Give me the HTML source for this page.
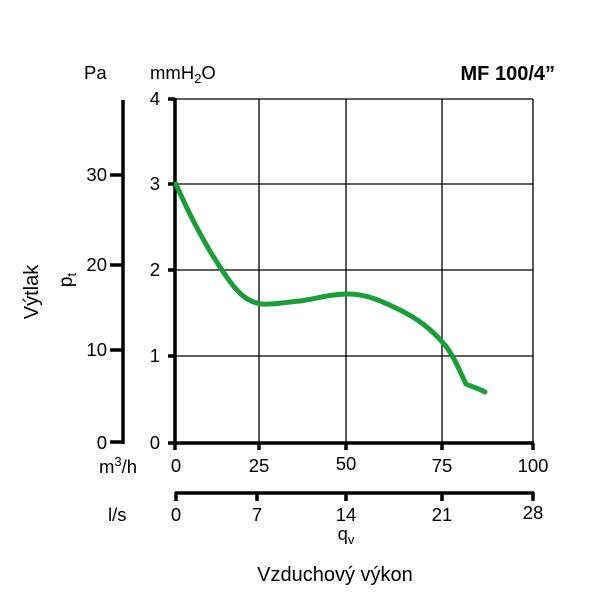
<!DOCTYPE html>
<html><head><meta charset="utf-8"><style>body{margin:0;background:#fff}</style></head><body>
<svg width="614" height="599" xmlns="http://www.w3.org/2000/svg" font-family="Liberation Sans, sans-serif" fill="#000">
<g stroke="#000" stroke-width="1.3">
<line x1="175" y1="99" x2="533" y2="99"/><line x1="175" y1="184" x2="533" y2="184"/>
<line x1="175" y1="270" x2="533" y2="270"/><line x1="175" y1="356" x2="533" y2="356"/>
<line x1="259" y1="99" x2="259" y2="443"/><line x1="346" y1="99" x2="346" y2="443"/>
<line x1="442" y1="99" x2="442" y2="443"/><line x1="533" y1="99" x2="533" y2="443"/>
</g>
<g stroke="#000" stroke-width="3.5">
<line x1="175" y1="98" x2="175" y2="450"/>
<line x1="168" y1="443" x2="534" y2="443"/>
<line x1="168" y1="99" x2="175" y2="99"/><line x1="168" y1="184" x2="175" y2="184"/>
<line x1="168" y1="270" x2="175" y2="270"/><line x1="168" y1="356" x2="175" y2="356"/>
<line x1="259" y1="443" x2="259" y2="450"/><line x1="346" y1="443" x2="346" y2="450"/>
<line x1="442" y1="443" x2="442" y2="450"/><line x1="533" y1="443" x2="533" y2="450"/>
<line x1="123" y1="100" x2="123" y2="444"/>
<line x1="110" y1="175" x2="123" y2="175"/><line x1="110" y1="265" x2="123" y2="265"/>
<line x1="110" y1="350" x2="123" y2="350"/><line x1="110" y1="442" x2="123" y2="442"/>
<line x1="175" y1="493" x2="534" y2="493"/>
<line x1="176" y1="492" x2="176" y2="501"/><line x1="257" y1="492" x2="257" y2="501"/>
<line x1="346" y1="492" x2="346" y2="501"/><line x1="442" y1="492" x2="442" y2="501"/>
<line x1="533" y1="492" x2="533" y2="501"/>
</g>
<path d="M176,184 C188,212 205,245 222,270 C235,290 245,302 262,304 C275,305 285,302 300,301 C315,299 330,294 348,294 C365,294 380,300 400,310 C420,320 432,330 445,345 C455,358 460,372 466,384 C475,388 480,389 485,392" fill="none" stroke="#1a9e3a" stroke-width="5" stroke-linecap="round"/>
<g font-size="18.5">
<text x="84" y="79">Pa</text>
<text x="150" y="79">mmH<tspan font-size="13" dy="4">2</tspan><tspan dy="-4">O</tspan></text>
<text x="555" y="80" font-weight="bold" font-size="20" text-anchor="end">MF 100/4”</text>
<g text-anchor="end">
<text x="160" y="105">4</text><text x="160" y="190">3</text><text x="160" y="276">2</text>
<text x="160" y="362">1</text><text x="160" y="449">0</text>
<text x="107" y="181">30</text><text x="107" y="271">20</text><text x="107" y="356">10</text><text x="107" y="449">0</text>
</g>
<g text-anchor="middle">
<text x="176" y="472">0</text><text x="259" y="472">25</text><text x="346" y="470">50</text>
<text x="442" y="472">75</text><text x="533" y="472">100</text>
<text x="176" y="521">0</text><text x="257" y="521">7</text><text x="346" y="521">14</text>
<text x="442" y="521">21</text><text x="533" y="519">28</text>
<text x="346" y="540">q<tspan font-size="13" dy="4">v</tspan></text>
<text x="335" y="581" font-size="20">Vzduchový výkon</text>
</g>
<text x="99" y="473">m<tspan font-size="13" dy="-7">3</tspan><tspan dy="7">/h</tspan></text>
<text x="108" y="521">l/s</text>
<text transform="translate(38,292) rotate(-90)" text-anchor="middle" font-size="20">Výtlak</text>
<text transform="translate(72,280) rotate(-90)" text-anchor="middle" font-size="19">p<tspan font-size="13" dy="4">t</tspan></text>
</g>
</svg>
</body></html>
